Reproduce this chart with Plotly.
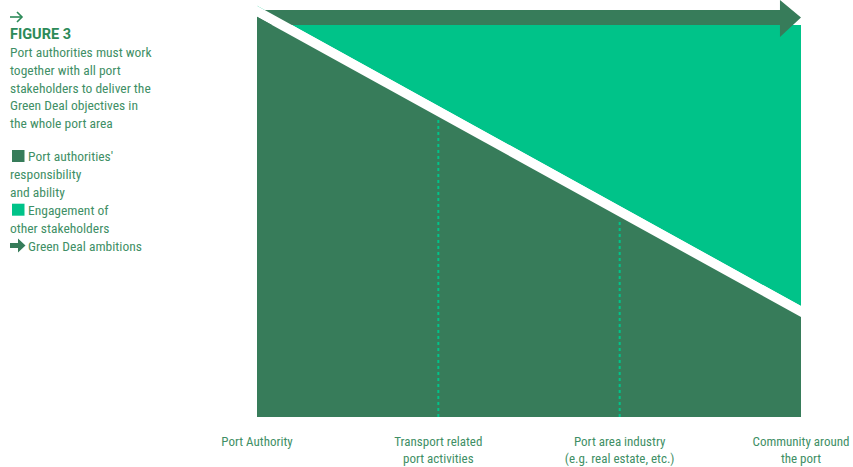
import plotly.graph_objects as go

# ---- data ----
categories = ["Port Authority",
              "Transport related<br>port activities",
              "Port area industry<br>(e.g. real estate, etc.)",
              "Community around<br>the port"]
responsibility = [96, 72, 48, 24]          # Port authorities' responsibility and ability
separator_gap = 2.6                          # white band between the two areas
engagement_top = 94.0                        # upper limit of stakeholder engagement
ambition_band = [94.0, 97.6]                 # Green Deal ambitions arrow band (bottom, top)
ambition_head = [91.1, 100.0]                # arrow head extent
ambition_head_len = 0.116                    # arrow head length (category units)

title_lines = ["Port authorities must work", "together with all port",
               "stakeholders to deliver the", "Green Deal objectives in",
               "the whole port area"]
legend_items = [("Port authorities'", ["responsibility", "and ability"]),
                ("Engagement of", ["other stakeholders"]),
                ("Green Deal ambitions", [])]

DARK = "#377c5a"
LIGHT = "#00c389"
TEXT = "#3f8f66"
TITLE = "#2c8a58"
FONT = "Liberation Sans Narrow, Roboto Condensed, Roboto, sans-serif"

W, H = 853, 467
L, R, T, B = 257, 52, 0, 50
PW, PH = W - L - R, H - T - B


def px(x):
    return (x - L) / PW


def py(y):
    return (H - B - y) / PH


def pathstr(pts, close=True):
    s = "M " + " L ".join(f"{px(a):.5f},{py(b):.5f}" for a, b in pts)
    return s + (" Z" if close else "")


xs = list(range(len(categories)))
gap_line = [v + separator_gap for v in responsibility]
n = len(xs)

fig = go.Figure()

# light green: engagement of other stakeholders
fig.add_trace(go.Scatter(x=xs, y=gap_line, mode="lines", line=dict(width=0),
                         hoverinfo="skip", showlegend=False))
fig.add_trace(go.Scatter(x=xs, y=[engagement_top] * n, mode="lines", line=dict(width=0),
                         fill="tonexty", fillcolor=LIGHT, hoverinfo="skip", showlegend=False))

# Green Deal ambitions arrow
x0, x3 = xs[0], xs[-1]
hx = x3 - ambition_head_len
mid = sum(ambition_band) / 2
fig.add_trace(go.Scatter(
    x=[x0, hx, hx, x3, hx, hx, x0, x0],
    y=[ambition_band[1], ambition_band[1], ambition_head[1], mid,
       ambition_head[0], ambition_band[0], ambition_band[0], ambition_band[1]],
    mode="lines", line=dict(width=0), fill="toself", fillcolor=DARK,
    hoverinfo="skip", showlegend=False))

# white separator band
fig.add_trace(go.Scatter(x=xs, y=gap_line, mode="lines", line=dict(width=0),
                         hoverinfo="skip", showlegend=False))
fig.add_trace(go.Scatter(x=xs, y=responsibility, mode="lines", line=dict(width=0),
                         fill="tonexty", fillcolor="white", hoverinfo="skip", showlegend=False))

# dark green: port authorities' responsibility
fig.add_trace(go.Scatter(x=xs, y=responsibility, mode="lines", line=dict(width=0),
                         fill="tozeroy", fillcolor=DARK, hoverinfo="skip", showlegend=False))

# dotted dividers
for i in xs[1:-1]:
    fig.add_trace(go.Scatter(x=[i, i], y=[0, responsibility[i] - 0.5], mode="lines",
                             line=dict(color=LIGHT, width=2, dash="dot"),
                             hoverinfo="skip", showlegend=False))


def label(text, x, y, size=13.5, color=TEXT, family=FONT):
    fig.add_annotation(text=text, xref="paper", yref="paper", x=px(x - 2), y=py(y),
                       xanchor="left", yanchor="middle", align="left", showarrow=False,
                       font=dict(family=family, size=size, color=color))


# title block: thin arrow icon + heading
fig.add_shape(type="path", xref="paper", yref="paper",
              path=pathstr([(10, 17), (22, 17)], close=False),
              line=dict(color=TITLE, width=1.6), layer="above")
fig.add_shape(type="path", xref="paper", yref="paper",
              path=pathstr([(17, 12), (22, 17), (17, 22)], close=False),
              line=dict(color=TITLE, width=1.6), layer="above")
label("<b>FIGURE 3</b>", 10, 34, size=14.5, color=TITLE, family="Roboto, sans-serif")
for k, line in enumerate(title_lines):
    label(line, 10, 52 + k * 17.8)

# legend block
ly = 156
line_h = 17.9
swatches = [DARK, LIGHT, None]
for (head, rest), col in zip(legend_items, swatches):
    label(head, 28, ly)
    if col is not None:
        fig.add_shape(type="rect", xref="paper", yref="paper",
                      x0=px(12), x1=px(24.5), y0=py(ly - 6), y1=py(ly + 6),
                      fillcolor=col, line=dict(width=0), layer="above")
    else:
        pts = [(10, ly - 2.5), (18, ly - 2.5), (18, ly - 7), (25.5, ly), (18, ly + 7),
               (18, ly + 2.5), (10, ly + 2.5)]
        fig.add_shape(type="path", xref="paper", yref="paper", path=pathstr(pts),
                      fillcolor=DARK, line=dict(width=0), layer="above")
    ly += line_h
    for r in rest:
        label(r, 10, ly)
        ly += line_h

fig.update_layout(
    width=W, height=H,
    margin=dict(l=L, r=R, t=T, b=B),
    paper_bgcolor="white", plot_bgcolor="white",
    xaxis=dict(range=[0, 3], tickvals=xs, ticktext=categories, showgrid=False,
               zeroline=False, showline=False, ticks="", fixedrange=True,
               ticklabelstandoff=15,
               tickfont=dict(family=FONT, size=13, color=TEXT)),
    yaxis=dict(range=[0, 100], visible=False, fixedrange=True),
    showlegend=False,
)

fig.write_html("out.html")
